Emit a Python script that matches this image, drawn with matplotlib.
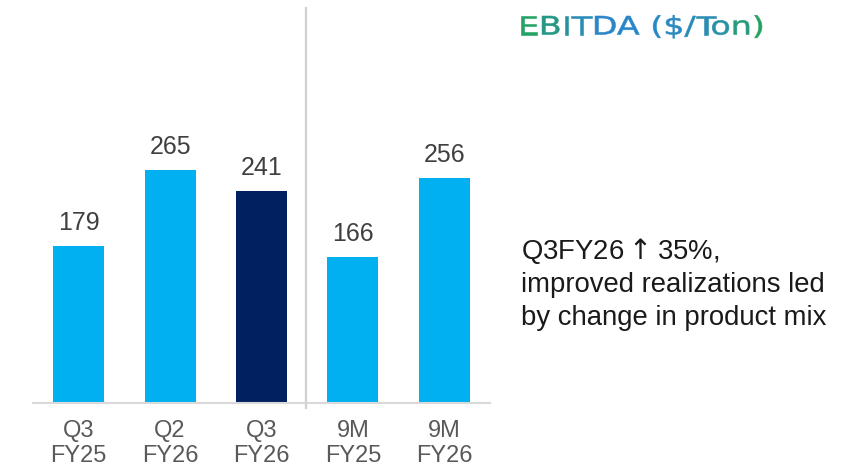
import numpy as np
import matplotlib
matplotlib.use("Agg")
import matplotlib.pyplot as plt
from matplotlib.textpath import TextPath
from matplotlib.patches import PathPatch
from matplotlib.font_manager import FontProperties
from matplotlib.colors import LinearSegmentedColormap
from matplotlib.transforms import Affine2D

categories = ["Q3\nFY25", "Q2\nFY26", "Q3\nFY26", "9M\nFY25", "9M\nFY26"]
values = [179, 265, 241, 166, 256]
bar_colors = ["#00B0F0", "#00B0F0", "#002060", "#00B0F0", "#00B0F0"]
title = "EBITDA ($/Ton)"
note_lines = ["Q3FY26${\\uparrow}$35%,", "improved realizations led", "by change in product mix"]

W, H = 853, 469
fig = plt.figure(figsize=(W / 100, H / 100), dpi=100)
fig.patch.set_facecolor("white")
plt.rcParams["mathtext.fontset"] = "dejavusans"

ax = fig.add_axes([33 / W, (H - 403) / H, (490 - 33) / W, (403 - 8) / H])
x = np.arange(len(values))
ax.bar(x, values, width=0.56, color=bar_colors, zorder=2)
ax.set_xlim(-0.5, len(values) - 0.5)
ax.set_ylim(0, 450)
for s in ["top", "right", "left"]:
    ax.spines[s].set_visible(False)
ax.spines["bottom"].set_color("#D9D9D9")
ax.spines["bottom"].set_linewidth(1.5)
ax.set_yticks([])
ax.set_xticks(x)
ax.set_xticklabels(categories, fontsize=17, color="#595959",
                   family=["Liberation Sans", "DejaVu Sans"], linespacing=1.2)
ax.tick_params(axis="x", length=0, pad=12)

for xi, v in zip(x, values):
    ax.annotate(str(v), (xi, v), xytext=(0, 11.5), textcoords="offset points",
                ha="center", va="baseline", fontsize=18, color="#404040",
                family=["Liberation Sans", "DejaVu Sans"])

ax.axvline(2.49, ymin=-5 / 395, ymax=1.0, color="#D0D0D0", lw=1.6, clip_on=False, zorder=1)

# Overlay in pixel coordinates for the title and note
ov = fig.add_axes([0, 0, 1, 1], zorder=5)
ov.set_xlim(0, W)
ov.set_ylim(0, H)
ov.axis("off")
ov.patch.set_alpha(0)

fp = FontProperties(family=["DejaVu Sans"])
SZ = 26
tp = TextPath((0, 0), title, size=SZ, prop=fp)
ext = tp.get_extents()
cap = TextPath((0, 0), "E", size=SZ, prop=fp).get_extents().y1
sx = (762 - 521) / (ext.x1 - ext.x0)
sy = 18.5 / cap
tr = Affine2D().translate(-ext.x0, 0).scale(sx, sy).translate(521, H - 34.5)
cmap = LinearSegmentedColormap.from_list(
    "g", [(0, "#22A558"), (0.3, "#2A86C8"), (0.55, "#2A86C8"), (0.8, "#2A8FB0"), (1.0, "#23A45A")])
total_w = ext.x1 - ext.x0
for i, ch in enumerate(title):
    if ch == " ":
        continue
    right_in_full = TextPath((0, 0), title[:i + 1], size=SZ, prop=fp).get_extents().x1
    own = TextPath((0, 0), ch, size=SZ, prop=fp).get_extents().x1
    cp = TextPath((right_in_full - own, 0), ch, size=SZ, prop=fp)
    ce = cp.get_extents()
    frac = ((ce.x0 + ce.x1) / 2 - ext.x0) / total_w
    col = cmap(np.clip(frac, 0, 1))
    ov.add_patch(PathPatch(tr.transform_path(cp), facecolor=col, edgecolor=col, lw=0.4))

baselines = [259, 292, 325]
for line, yb in zip(note_lines, baselines):
    ov.text(521, H - yb, line, fontsize=19.8, color="#1A1A1A", va="baseline", ha="left",
            family=["Liberation Sans", "DejaVu Sans"])

fig.savefig("out.png", dpi=100, facecolor="white")
